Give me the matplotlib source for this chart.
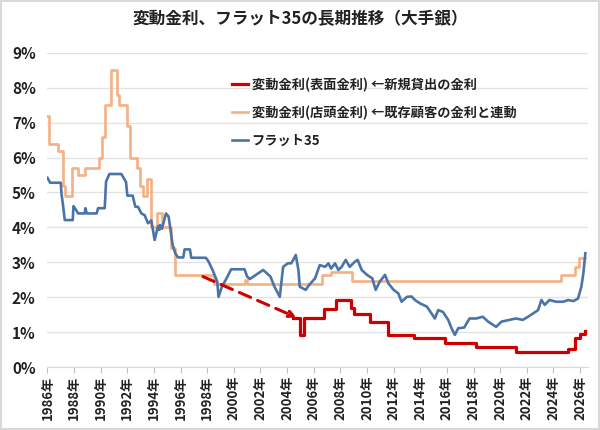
import matplotlib
matplotlib.use("Agg")
import matplotlib.pyplot as plt

plt.rcParams['font.family'] = ['Noto Sans CJK JP', 'DejaVu Sans']

# 変動金利(店頭金利) : step data (year, %)
tento_years = [1986.0, 1986.15, 1986.8, 1987.15, 1987.3, 1987.85, 1988.3, 1988.8,
               1989.9, 1990.1, 1990.3, 1990.8, 1991.2, 1991.35, 1991.95, 1992.2,
               1992.7, 1992.95, 1993.15, 1993.45, 1993.8, 1994.2, 1994.6, 1995.3,
               1995.55, 1998.5, 2000.8, 2001.0, 2006.6, 2007.3, 2008.9, 2024.6,
               2025.6, 2025.95, 2026.4]
tento_rates = [7.2, 6.4, 6.2, 5.2, 4.9, 5.7, 5.5, 5.7,
               6.0, 6.6, 7.5, 8.5, 7.8, 7.5, 6.9, 6.0,
               5.7, 5.2, 4.9, 5.4, 4.0, 4.4, 4.0, 3.4,
               2.625, 2.375, 2.5, 2.375, 2.625, 2.72, 2.475, 2.625,
               2.875, 3.125, 3.125]

# 変動金利(表面金利) : step data
hyomen_years = [2004.45, 2005.0, 2005.3, 2006.75, 2007.7, 2008.8, 2009.0, 2010.2,
                2011.6, 2013.5, 2015.85, 2018.2, 2021.2, 2025.1, 2025.6, 2026.0,
                2026.4]
hyomen_rates = [1.41, 0.92, 1.41, 1.65, 1.92, 1.68, 1.51, 1.30,
                0.92, 0.82, 0.68, 0.58, 0.42, 0.53, 0.82, 0.95,
                1.03]

# 表面金利が無い期間の推定（破線矢印）
dash_years = [1997.68, 2004.7]
dash_rates = [2.59, 1.42]

# フラット35
flat_years = [1986.0, 1986.2, 1987.0, 1987.05, 1987.15, 1987.3, 1987.9, 1987.95,
              1988.15, 1988.3, 1988.8, 1988.85, 1988.95, 1989.7, 1989.8, 1990.3,
              1990.4, 1990.65, 1991.55, 1991.9, 1992.0, 1992.4, 1992.6, 1992.8,
              1993.05, 1993.3, 1993.55, 1993.7, 1993.8, 1994.05, 1994.3, 1994.4,
              1994.45, 1994.6, 1994.9, 1995.1, 1995.4, 1995.6, 1995.8, 1996.2,
              1996.3, 1996.7, 1996.8, 1997.9, 1998.1, 1998.4, 1998.75, 1998.85,
              1999.1, 1999.45, 1999.8, 2000.8, 2001.0, 2001.2, 2001.5, 2002.2,
              2002.75, 2003.05, 2003.45, 2003.7, 2004.05, 2004.3, 2004.45, 2004.65,
              2004.85, 2004.95, 2005.2, 2005.4, 2005.65, 2006.1, 2006.45, 2006.85,
              2007.1, 2007.3, 2007.6, 2007.85, 2008.1, 2008.4, 2008.7, 2009.1,
              2009.3, 2009.6, 2010.0, 2010.4, 2010.65, 2010.95, 2011.35, 2011.6,
              2012.0, 2012.35, 2012.6, 2013.0, 2013.35, 2013.6, 2014.0, 2014.5,
              2015.1, 2015.35, 2015.7, 2016.1, 2016.35, 2016.6, 2016.85, 2017.3,
              2017.7, 2018.2, 2018.7, 2019.1, 2019.7, 2020.1, 2020.7, 2021.2,
              2021.7, 2022.1, 2022.5, 2022.85, 2023.1, 2023.35, 2023.7, 2024.2,
              2024.75, 2025.1, 2025.5, 2025.85, 2026.1, 2026.25, 2026.4]
flat_rates = [5.42, 5.28, 5.28, 4.97, 4.69, 4.21, 4.21, 4.61,
              4.5, 4.4, 4.4, 4.55, 4.4, 4.4, 4.55, 4.55,
              5.31, 5.53, 5.53, 5.3, 4.91, 4.91, 4.59, 4.59,
              4.4, 4.35, 4.12, 4.16, 4.2, 3.64, 4.03, 3.93,
              4.07, 3.96, 4.4, 4.31, 3.5, 3.26, 3.14, 3.14,
              3.37, 3.37, 3.13, 3.13, 3.02, 2.78, 2.45, 2.01,
              2.3, 2.54, 2.8, 2.8, 2.59, 2.52, 2.6, 2.78,
              2.59, 2.3, 2.01, 2.87, 2.97, 2.97, 3.06, 3.21,
              2.78, 2.3, 2.25, 2.21, 2.35, 2.54, 2.92, 2.87,
              2.97, 2.82, 2.97, 2.78, 2.87, 3.07, 2.87, 3.02,
              3.07, 2.78, 2.64, 2.54, 2.21, 2.44, 2.64, 2.4,
              2.21, 2.11, 1.87, 2.01, 2.02, 1.92, 1.82, 1.73,
              1.39, 1.63, 1.58, 1.35, 1.11, 0.92, 1.11, 1.13,
              1.39, 1.39, 1.44, 1.3, 1.15, 1.3, 1.35, 1.39,
              1.35, 1.44, 1.54, 1.63, 1.92, 1.78, 1.92, 1.87,
              1.87, 1.92, 1.89, 1.96, 2.3, 2.68, 3.26]

tick_years = list(range(1986, 2027, 2))
tick_labels = [f"{y}年" for y in tick_years]
y_ticks = list(range(0, 10))
y_labels = [f"{v}%" for v in y_ticks]

red = '#cc0000'
orange = '#f4b183'
blue = '#4a74a8'

fig = plt.figure(figsize=(6, 4.3), dpi=100)
fig.patch.set_edgecolor('#d9d9d9')
fig.patch.set_linewidth(1.5)
ax = fig.add_axes([0.078, 0.1465, 0.902, 0.7305])

ax.step(hyomen_years, hyomen_rates, where='post', color=red, lw=2.3,
        label='変動金利(表面金利) ←新規貸出の金利', zorder=4)
ax.step(tento_years, tento_rates, where='post', color=orange, lw=1.9,
        label='変動金利(店頭金利) ←既存顧客の金利と連動', zorder=2)
ax.plot(flat_years, flat_rates, color=blue, lw=1.9, label='フラット35', zorder=3)

ax.annotate('', xy=(dash_years[1], dash_rates[1]), xytext=(dash_years[0], dash_rates[0]),
            arrowprops=dict(arrowstyle='-|>', color=red, lw=2.2, ls=(0, (4, 2.5)),
                            mutation_scale=10, shrinkA=0, shrinkB=0), zorder=4)

ax.set_xlim(1985.95, 2026.6)
ax.set_ylim(0, 9)
ax.set_yticks(y_ticks)
ax.set_yticklabels(y_labels, fontsize=11, fontweight='bold', color='#222222')
ax.set_xticks(tick_years)
ax.set_xticklabels(tick_labels, rotation=90, fontsize=9.5, fontweight='bold', color='#222222')
ax.tick_params(axis='y', length=0, pad=8)
ax.tick_params(axis='x', length=4, color='#bfbfbf', pad=2)
ax.grid(axis='y', color='#e3e3e3', lw=1)
ax.set_axisbelow(True)
for side in ['top', 'right', 'left']:
    ax.spines[side].set_visible(False)
ax.spines['bottom'].set_color('#d9d9d9')

fig.text(0.5, 0.955, '変動金利、フラット35の長期推移（大手銀）', ha='center', va='center',
         fontsize=12, fontweight='bold', color='#222222')

leg = ax.legend(loc='upper left', bbox_to_anchor=(0.32, 0.96), frameon=False,
                prop={'size': 9.5, 'weight': 'bold'}, handlelength=1.2,
                handletextpad=0.3, labelspacing=1.05)
for t in leg.get_texts():
    t.set_color('#222222')

fig.savefig('out.png', dpi=100)
